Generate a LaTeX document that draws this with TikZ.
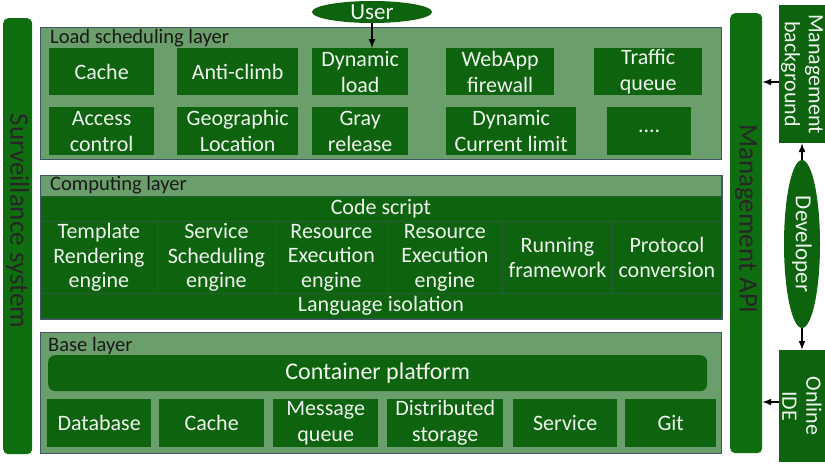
\documentclass[tikz,border=0pt]{standalone}
\usepackage{fontspec}
\setmainfont{Carlito}
\usepackage{xcolor}
\usepackage{tikz}
\usetikzlibrary{calc, shapes.geometric, positioning}

\definecolor{dkgreen}{HTML}{0E640E}
\definecolor{bargreen}{HTML}{0F6E0F}
\definecolor{ltgreen}{HTML}{6A9E6A}
\definecolor{edgegray}{HTML}{44546A}
\definecolor{boxtext}{HTML}{EEF5EE}

\tikzset{
    layer/.style={draw=edgegray, fill=ltgreen, line width=1pt, anchor=north west, inner sep=0pt},
    layertitle/.style={anchor=west, inner sep=2pt, text=black!90, font=\fontsize{20.5}{23}\selectfont},
    module/.style={fill=dkgreen, text=boxtext, align=center, anchor=north west, inner sep=0pt,
        font=\fontsize{22}{26}\selectfont},
    cell/.style={module, draw=edgegray!45!dkgreen, line width=0.8pt, font=\fontsize{22}{24.5}\selectfont},
    sidebar/.style={fill=bargreen, rounded corners=5pt, anchor=north west, inner sep=0pt},
    bartext/.style={rotate=-90, text=black!85, font=\fontsize{27}{30}\selectfont},
    sidebox/.style={fill=dkgreen, text=boxtext, rotate=-90, align=center, inner sep=0pt,
        minimum height=46pt, font=\fontsize{22}{24}\selectfont},
    actor/.style={ellipse, fill=dkgreen, text=boxtext, inner sep=0pt, font=\fontsize{23}{25}\selectfont},
    arr/.style={->, line width=2pt, black}
}

\begin{document}
\begin{tikzpicture}[>=latex, x=1pt, y=-1pt]
    \useasboundingbox (0,0) rectangle (825,464);

    % side bars
    \node[sidebar, minimum width=29pt, minimum height=436pt] (surv) at (3,18) {};
    \node[bartext] (survtext) at (17.5,221) {Surveillance system};
    \node[sidebar, minimum width=32pt, minimum height=440pt] (mapi) at (730,13) {};
    \node[bartext] (mapitext) at (746,219) {Management API};

    % load scheduling layer
    \node[layer, minimum width=681pt, minimum height=132pt] (load) at (40,27) {};
    \node[layertitle] (loadtitle) at (48,38) {Load scheduling layer};

    \node[module, minimum width=105pt, minimum height=47pt] (cache) at (49,48) {Cache};
    \node[module, minimum width=121pt, minimum height=47pt] (anticlimb) at (177,48) {Anti-climb};
    \node[module, minimum width=96pt, minimum height=47pt] (dynload) at (312,48) {Dynamic\\load};
    \node[module, minimum width=108pt, minimum height=47pt] (waf) at (446,48) {WebApp\\firewall};
    \node[module, minimum width=108pt, minimum height=47pt] (traffic) at (594,48) {Traffic\\queue};

    \node[module, minimum width=105pt, minimum height=48pt] (access) at (49,107) {Access\\control};
    \node[module, minimum width=121pt, minimum height=48pt] (geo) at (177,107) {Geographic\\Location};
    \node[module, minimum width=96pt, minimum height=48pt] (gray) at (312,107) {Gray\\release};
    \node[module, minimum width=130pt, minimum height=48pt] (curlimit) at (446,107) {Dynamic\\Current limit};
    \node[module, minimum width=84pt, minimum height=48pt] (more) at (607,107) {....};

    % computing layer
    \node[layer, minimum width=681pt, minimum height=143pt] (comp) at (40,175) {};
    \node[layertitle] (comptitle) at (48,185.5) {Computing layer};

    \node[cell, minimum width=681pt, minimum height=25pt] (code) at (40,196) {Code script};
    \node[cell, minimum width=117pt, minimum height=72pt] (tmpl) at (40,221) {Template\\Rendering\\engine};
    \node[cell, minimum width=118pt, minimum height=72pt] (sched) at (157,221) {Service\\Scheduling\\engine};
    \node[cell, minimum width=112pt, minimum height=72pt] (resa) at (275,221) {Resource\\Execution\\engine};
    \node[cell, minimum width=115pt, minimum height=72pt] (resb) at (387,221) {Resource\\Execution\\engine};
    \node[cell, minimum width=110pt, minimum height=72pt] (run) at (502,221) {Running\\framework};
    \node[cell, minimum width=109pt, minimum height=72pt] (proto) at (612,221) {Protocol\\conversion};
    \node[cell, minimum width=681pt, minimum height=25pt] (lang) at (40,293) {Language isolation};
    \draw[edgegray, line width=1pt] (comp.north west) rectangle (comp.south east);

    % base layer
    \node[layer, minimum width=681pt, minimum height=121pt] (base) at (40,332) {};
    \node[layertitle] (basetitle) at (46,346) {Base layer};

    \node[module, rounded corners=7pt, minimum width=659pt, minimum height=36pt,
        font=\fontsize{24}{28}\selectfont] (container) at (48,355) {Container platform};

    \node[module, minimum width=104pt, minimum height=48pt] (db) at (47,399) {Database};
    \node[module, minimum width=105pt, minimum height=48pt] (bcache) at (159,399) {Cache};
    \node[module, minimum width=105pt, minimum height=48pt] (mq) at (273,399) {Message\\queue};
    \node[module, minimum width=116pt, minimum height=48pt] (dist) at (387,399) {Distributed\\storage};
    \node[module, minimum width=104pt, minimum height=48pt] (svc) at (513,399) {Service};
    \node[module, minimum width=91pt, minimum height=48pt] (git) at (625,399) {Git};

    % user and developer side
    \node[actor, minimum width=120pt, minimum height=22pt] (user) at (372,12) {User};
    \node[sidebox, minimum width=138pt] (mbg) at (802,74) {Management\\background};
    \node[sidebox, minimum width=112pt] (ide) at (802,406) {Online\\IDE};
    \node[actor, rotate=-90, minimum width=168pt, minimum height=36pt] (dev) at (802,244) {Developer};

    % arrows
    \draw[arr] (user.south) -- (user.south |- dynload.north);
    \draw[arr] (dev.west) -- (mbg.east);
    \draw[arr] (dev.east) -- (ide.west);
    \draw[arr] ([yshift=-8pt]mbg.south) -- ([yshift=-8pt]mbg.south -| mapi.east);
    \draw[arr] ([yshift=4pt]ide.south) -- ([yshift=4pt]ide.south -| mapi.east);
\end{tikzpicture}
\end{document}
